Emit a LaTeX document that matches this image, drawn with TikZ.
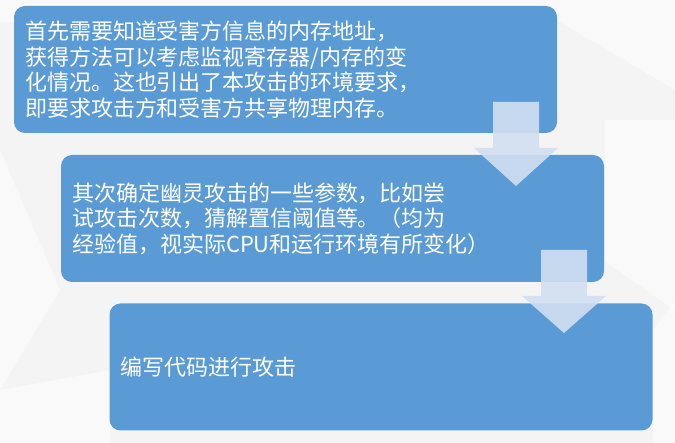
\documentclass[tikz,border=0pt]{standalone}
\usepackage{fontspec}
\setmainfont{Noto Sans CJK SC}
\usepackage{tikz}

\definecolor{boxblue}{RGB}{91,155,213}
\definecolor{arrowfill}{RGB}{210,223,240}
\definecolor{bggray}{RGB}{244,244,244}

\tikzset{
  stepbox/.style={rectangle, rounded corners=11pt, fill=boxblue, text=white,
    minimum width=543pt, minimum height=127pt, text width=521pt,
    inner xsep=11pt, align=left, font=\fontsize{22}{25.5}\selectfont},
  flowarrow/.style={fill=arrowfill, fill opacity=0.9},
  bgshape/.style={fill=white, fill opacity=0.5}
}

\begin{document}
\begin{tikzpicture}[x=1pt, y=-1pt]

% Background
\useasboundingbox (0,0) rectangle (675,443);
\fill[bggray] (0,0) rectangle (675,443);
\fill[bgshape] (0,0) -- (675,0) -- (675,90) -- (560,22) -- (0,22) -- cycle;
\fill[bgshape] (605,120) -- (675,120) -- (675,310) -- (605,262) -- cycle;
\fill[bgshape] (0,150) -- (60,290) -- (0,390) -- cycle;
\fill[bgshape] (0,390) -- (110,370) -- (110,443) -- (0,443) -- cycle;
\fill[bgshape] (653,330) -- (675,300) -- (675,443) -- (653,443) -- cycle;

% Steps
\node[stepbox] (step1) at (285.5,69.5) {首先需要知道受害方信息的内存地址，\\获得方法可以考虑监视寄存器/内存的变\\化情况。这也引出了本攻击的环境要求，\\即要求攻击方和受害方共享物理内存。};
\node[stepbox] (step2) at (332.5,218.5) {其次确定幽灵攻击的一些参数，比如尝\\试攻击次数，猜解置信阈值等。（均为\\经验值，视实际CPU和运行环境有所变化）};
\node[stepbox] (step3) at (381,367) {编写代码进行攻击};

% Arrows between steps
\fill[flowarrow] (493,102) -- (539,102) -- (539,148) -- (558,148) -- (516,186)
  -- (474,148) -- (493,148) -- cycle;
\fill[flowarrow] (541,250) -- (587,250) -- (587,296) -- (606,296) -- (564,333)
  -- (522,296) -- (541,296) -- cycle;

\end{tikzpicture}
\end{document}
